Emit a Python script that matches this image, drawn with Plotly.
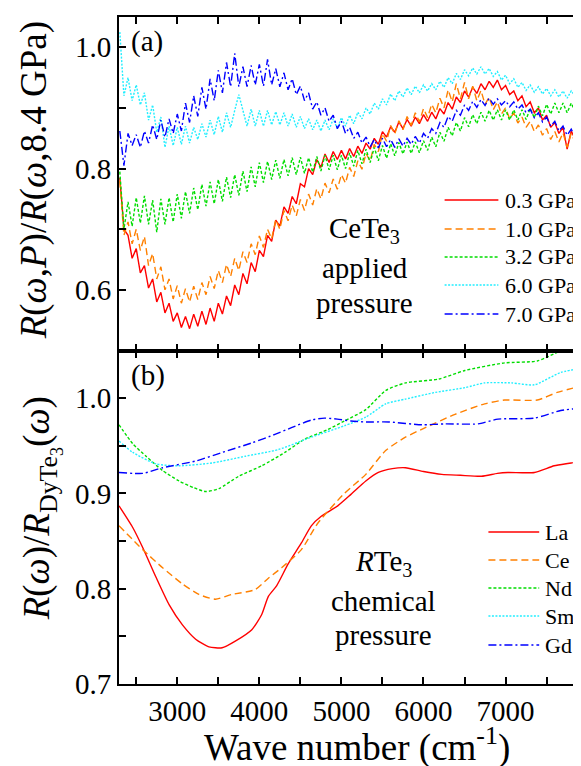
import plotly.graph_objects as go

# ---------------- data: panel (a)  CeTe3 under applied pressure ----------------
wn = list(range(2300, 8000, 50))  # wave number grid, cm^-1

p03 = [0.785, 0.700, 0.690, 0.652, 0.668, 0.628, 0.640, 0.603, 0.618, 0.580,
       0.596, 0.562, 0.578, 0.548, 0.562, 0.538, 0.556, 0.536, 0.560, 0.540,
       0.565, 0.543, 0.570, 0.548, 0.578, 0.560, 0.590, 0.574, 0.608, 0.592,
       0.627, 0.610, 0.645, 0.630, 0.665, 0.655, 0.690, 0.680, 0.715, 0.705,
       0.737, 0.726, 0.754, 0.742, 0.775, 0.770, 0.800, 0.790, 0.815, 0.802,
       0.824, 0.810, 0.828, 0.815, 0.830, 0.816, 0.833, 0.820, 0.837, 0.825,
       0.842, 0.832, 0.850, 0.840, 0.861, 0.852, 0.869, 0.860, 0.877, 0.866,
       0.881, 0.870, 0.885, 0.874, 0.889, 0.878, 0.893, 0.882, 0.899, 0.890,
       0.909, 0.898, 0.918, 0.909, 0.928, 0.918, 0.934, 0.924, 0.940, 0.930,
       0.944, 0.934, 0.946, 0.930, 0.937, 0.922, 0.928, 0.912, 0.920, 0.902,
       0.910, 0.892, 0.900, 0.880, 0.888, 0.868, 0.876, 0.858, 0.868, 0.832,
       0.862, 0.848, 0.856, 0.842]

p10 = [0.780, 0.690, 0.712, 0.676, 0.700, 0.665, 0.688, 0.640, 0.660, 0.618,
       0.638, 0.600, 0.618, 0.585, 0.607, 0.578, 0.602, 0.580, 0.606, 0.584,
       0.612, 0.592, 0.622, 0.602, 0.632, 0.612, 0.642, 0.622, 0.652, 0.632,
       0.663, 0.645, 0.676, 0.658, 0.689, 0.670, 0.700, 0.684, 0.716, 0.700,
       0.731, 0.714, 0.740, 0.722, 0.749, 0.731, 0.758, 0.740, 0.767, 0.750,
       0.776, 0.760, 0.783, 0.766, 0.790, 0.776, 0.802, 0.787, 0.813, 0.799,
       0.825, 0.812, 0.840, 0.828, 0.858, 0.845, 0.871, 0.857, 0.879, 0.864,
       0.886, 0.871, 0.892, 0.877, 0.899, 0.884, 0.906, 0.892, 0.916, 0.900,
       0.930, 0.910, 0.940, 0.915, 0.942, 0.915, 0.936, 0.912, 0.929, 0.906,
       0.918, 0.897, 0.910, 0.890, 0.900, 0.882, 0.892, 0.875, 0.885, 0.868,
       0.878, 0.861, 0.872, 0.855, 0.866, 0.848, 0.861, 0.844, 0.859, 0.835,
       0.858, 0.843, 0.860, 0.846]

p32 = [0.795, 0.700, 0.745, 0.705, 0.752, 0.710, 0.755, 0.708, 0.748, 0.695,
       0.750, 0.708, 0.752, 0.712, 0.758, 0.718, 0.762, 0.726, 0.768, 0.732,
       0.774, 0.738, 0.778, 0.742, 0.782, 0.746, 0.786, 0.752, 0.790, 0.756,
       0.796, 0.762, 0.803, 0.770, 0.810, 0.777, 0.812, 0.782, 0.814, 0.784,
       0.815, 0.788, 0.818, 0.790, 0.819, 0.792, 0.818, 0.794, 0.820, 0.796,
       0.822, 0.798, 0.822, 0.798, 0.822, 0.800, 0.826, 0.804, 0.830, 0.808,
       0.832, 0.810, 0.835, 0.813, 0.838, 0.817, 0.841, 0.821, 0.843, 0.824,
       0.844, 0.825, 0.844, 0.826, 0.846, 0.830, 0.852, 0.836, 0.860, 0.845,
       0.868, 0.854, 0.876, 0.862, 0.884, 0.869, 0.889, 0.874, 0.893, 0.878,
       0.896, 0.880, 0.897, 0.880, 0.897, 0.880, 0.897, 0.880, 0.897, 0.881,
       0.899, 0.884, 0.903, 0.887, 0.906, 0.890, 0.908, 0.892, 0.908, 0.892,
       0.908, 0.893, 0.910, 0.896]

p60 = [1.025, 0.920, 0.950, 0.912, 0.938, 0.905, 0.925, 0.880, 0.905, 0.860,
       0.885, 0.835, 0.870, 0.838, 0.868, 0.840, 0.870, 0.842, 0.868, 0.848,
       0.874, 0.852, 0.880, 0.856, 0.886, 0.860, 0.892, 0.868, 0.896, 0.922,
       0.896, 0.870, 0.898, 0.870, 0.896, 0.870, 0.896, 0.872, 0.894, 0.872,
       0.892, 0.870, 0.890, 0.868, 0.886, 0.866, 0.882, 0.864, 0.880, 0.862,
       0.880, 0.864, 0.882, 0.866, 0.884, 0.870, 0.888, 0.874, 0.893, 0.882,
       0.900, 0.890, 0.908, 0.898, 0.915, 0.905, 0.923, 0.912, 0.928, 0.918,
       0.933, 0.922, 0.936, 0.925, 0.938, 0.928, 0.940, 0.930, 0.944, 0.934,
       0.950, 0.940, 0.957, 0.947, 0.963, 0.953, 0.966, 0.956, 0.968, 0.956,
       0.965, 0.952, 0.960, 0.946, 0.954, 0.940, 0.948, 0.934, 0.942, 0.929,
       0.938, 0.926, 0.935, 0.923, 0.932, 0.920, 0.930, 0.918, 0.928, 0.916,
       0.928, 0.920, 0.934, 0.926]

p70 = [0.862, 0.805, 0.858, 0.838, 0.856, 0.835, 0.862, 0.842, 0.872, 0.848,
       0.880, 0.852, 0.882, 0.858, 0.890, 0.862, 0.908, 0.876, 0.920, 0.886,
       0.934, 0.898, 0.948, 0.912, 0.962, 0.925, 0.975, 0.935, 0.990, 0.935,
       0.968, 0.935, 0.970, 0.938, 0.972, 0.936, 0.980, 0.938, 0.965, 0.935,
       0.958, 0.930, 0.948, 0.922, 0.936, 0.912, 0.925, 0.898, 0.910, 0.888,
       0.900, 0.878, 0.888, 0.866, 0.878, 0.858, 0.868, 0.850, 0.860, 0.842,
       0.852, 0.836, 0.848, 0.834, 0.850, 0.836, 0.848, 0.835, 0.849, 0.837,
       0.850, 0.840, 0.853, 0.842, 0.858, 0.850, 0.866, 0.858, 0.876, 0.868,
       0.886, 0.878, 0.896, 0.888, 0.905, 0.896, 0.911, 0.901, 0.914, 0.904,
       0.916, 0.906, 0.915, 0.905, 0.912, 0.902, 0.910, 0.898, 0.905, 0.892,
       0.898, 0.884, 0.892, 0.877, 0.885, 0.870, 0.878, 0.862, 0.870, 0.855,
       0.865, 0.852, 0.862, 0.855]

pressure_labels = ["0.3 GPa", "1.0 GPa", "3.2 GPa", "6.0 GPa", "7.0 GPa"]

# ---------------- data: panel (b)  RTe3 relative to DyTe3 ----------------
la_x = [2290, 2459, 2580, 2741, 2902, 3063, 3224, 3385, 3546, 3707, 3908, 4029, 4110,
        4210, 4351, 4512, 4633, 4754, 4955, 5116, 5297, 5450, 5620, 5780, 6000, 6223,
        6450, 6707, 6900, 7028, 7351, 7592, 7800, 7980]
la_y = [0.887, 0.864, 0.843, 0.812, 0.783, 0.762, 0.747, 0.739, 0.738, 0.745, 0.757,
        0.773, 0.792, 0.803, 0.826, 0.848, 0.866, 0.876, 0.887, 0.899, 0.913, 0.922,
        0.926, 0.927, 0.923, 0.920, 0.919, 0.918, 0.921, 0.922, 0.922, 0.929, 0.932,
        0.935]
ce_x = [2290, 2580, 2821, 3063, 3264, 3465, 3667, 3948, 4110, 4271, 4512, 4714, 5036,
        5297, 5539, 5780, 6022, 6384, 6746, 6988, 7387, 7628, 7980]
ce_y = [0.866, 0.841, 0.822, 0.805, 0.794, 0.789, 0.794, 0.799, 0.811, 0.822, 0.841,
        0.869, 0.900, 0.920, 0.945, 0.959, 0.969, 0.983, 0.994, 0.998, 0.998, 1.006,
        1.014]
nd_x = [2290, 2459, 2620, 2821, 3023, 3200, 3345, 3506, 3748, 4029, 4311, 4553, 4835,
        5036, 5297, 5539, 5780, 6183, 6505, 6988, 7387, 7677, 7980]
nd_y = [0.972, 0.952, 0.939, 0.924, 0.913, 0.906, 0.902, 0.905, 0.918, 0.929, 0.943,
        0.957, 0.967, 0.976, 0.988, 1.008, 1.016, 1.020, 1.029, 1.037, 1.039, 1.050,
        1.060]
sm_x = [2290, 2459, 2741, 3023, 3425, 3828, 4231, 4633, 5036, 5297, 5539, 5780, 6143,
        6505, 6746, 7068, 7351, 7673, 7980]
sm_y = [0.955, 0.943, 0.931, 0.929, 0.932, 0.939, 0.946, 0.959, 0.971, 0.980, 0.994,
        0.999, 1.006, 1.011, 1.016, 1.016, 1.014, 1.027, 1.032]
gd_x = [2290, 2580, 2821, 3224, 3546, 3908, 4190, 4391, 4633, 4794, 4950, 5116, 5297,
        5579, 5982, 6263, 6666, 6907, 7351, 7673, 7980]
gd_y = [0.922, 0.921, 0.927, 0.934, 0.943, 0.953, 0.962, 0.969, 0.977, 0.979, 0.978,
        0.976, 0.975, 0.975, 0.972, 0.973, 0.973, 0.978, 0.979, 0.987, 0.990]

element_labels = ["La", "Ce", "Nd", "Sm", "Gd"]

# ---------------- styles ----------------
colors = ["#FF0000", "#FF8000", "#00DD00", "#22EEFF", "#0000FF"]
dashes = ["solid", "7px,4px", "3px,2px", "2px,1.5px", "8px,3px,2px,3px"]
FONT = "'Times New Roman', 'Liberation Serif', 'DejaVu Serif', Times, serif"

L, R, T, B = 111, 1, 9, 90
W, H = 581, 766
PW, PH = W - L - R, H - T - B


def px(xp):
    return (xp - L) / PW


def py(yp):
    return (H - B - yp) / PH


fig = go.Figure()

a_series = [p03, p10, p32, p60, p70]
for lab, vals, c, d in zip(pressure_labels, a_series, colors, dashes):
    fig.add_trace(go.Scatter(x=wn, y=vals, mode="lines", name=lab,
                             line=dict(color=c, width=1.4, dash=d),
                             xaxis="x2", yaxis="y2", showlegend=False))

b_series = [(la_x, la_y), (ce_x, ce_y), (nd_x, nd_y), (sm_x, sm_y), (gd_x, gd_y)]
for lab, (xs, ys), c, d in zip(element_labels, b_series, colors, dashes):
    fig.add_trace(go.Scatter(x=xs, y=ys, mode="lines", name=lab,
                             line=dict(color=c, width=1.4, dash=d, shape="spline",
                                       smoothing=0.6),
                             xaxis="x", yaxis="y", showlegend=False))

axis_common = dict(showline=True, linecolor="black", linewidth=2, mirror="ticks",
                   ticks="inside", ticklen=7, tickwidth=1.5, tickcolor="black",
                   showgrid=False, zeroline=False,
                   tickfont=dict(family=FONT, size=29, color="black"))

fig.update_layout(
    width=W, height=H,
    margin=dict(l=L, r=R, t=T, b=B),
    paper_bgcolor="white", plot_bgcolor="white",
    font=dict(family=FONT, color="black"),
    xaxis=dict(domain=[0, 1], anchor="y", range=[2290, 7980], dtick=1000, tick0=3000,
               minor=dict(dtick=500, ticks="inside", ticklen=7, tickwidth=1.5,
                          tickcolor="black"),
               **axis_common),
    xaxis2=dict(domain=[0, 1], anchor="y2", matches="x", range=[2290, 7980],
                dtick=1000, tick0=3000, showticklabels=False,
                minor=dict(dtick=500, ticks="inside", ticklen=7, tickwidth=1.5,
                           tickcolor="black"),
                **axis_common),
    yaxis=dict(domain=[0, 0.5], anchor="x", range=[0.7, 1.05], dtick=0.1, tick0=0.7,
               tickformat=".1f",
               minor=dict(dtick=0.05, ticks="inside", ticklen=7, tickwidth=1.5,
                          tickcolor="black"),
               **axis_common),
    yaxis2=dict(domain=[0.5, 1], anchor="x2", range=[0.5, 1.05], dtick=0.2, tick0=0.6,
                tickformat=".1f",
                minor=dict(dtick=0.1, ticks="inside", ticklen=7, tickwidth=1.5,
                           tickcolor="black"),
                **axis_common),
)

ann = []


def text(xp, yp, s, size, xanchor="center", yanchor="middle", angle=0):
    ann.append(dict(x=px(xp), y=py(yp), xref="paper", yref="paper", text=s,
                    showarrow=False, xanchor=xanchor, yanchor=yanchor,
                    textangle=angle,
                    font=dict(family=FONT, size=size, color="black")))


# axis titles
text(26, 172, "<i>R</i>(<i>ω</i>,<i>P</i>)/<i>R</i>(<i>ω</i>,8.4 GPa)", 37, angle=-90)
text(33, 500, "<i>R</i>(<i>ω</i>)/<i>R</i><sub>DyTe<sub>3</sub></sub>(<i>ω</i>)", 37, angle=-90)
text(350, 737, "Wave number (cm<sup>-1</sup>)", 37)

# panel labels
text(121, 33, "(a)", 29, xanchor="left")
text(121, 368, "(b)", 29, xanchor="left")

# in-panel descriptions
text(358, 222, "CeTe<sub>3</sub>", 29)
text(358, 260, "applied", 29)
text(358, 295, "pressure", 29)
text(377, 555, "<i>R</i>Te<sub>3</sub>", 29)
text(377, 593, "chemical", 29)
text(377, 627, "pressure", 29)

# legends (drawn as key lines + labels)
shapes = []
leg_a_y = [192, 221, 249, 277, 306]
for lab, yy, c, d in zip(pressure_labels, leg_a_y, colors, dashes):
    shapes.append(dict(type="line", xref="paper", yref="paper",
                       x0=px(438), x1=px(492), y0=py(yy), y1=py(yy),
                       line=dict(color=c, width=1.4, dash=d)))
    text(497, yy, lab, 22, xanchor="left")

leg_b_y = [524, 552, 580, 608, 637]
for lab, yy, c, d in zip(element_labels, leg_b_y, colors, dashes):
    shapes.append(dict(type="line", xref="paper", yref="paper",
                       x0=px(482), x1=px(533), y0=py(yy), y1=py(yy),
                       line=dict(color=c, width=1.4, dash=d)))
    text(537, yy, lab, 22, xanchor="left")

fig.update_layout(annotations=ann, shapes=shapes)

fig.write_html("out.html")
